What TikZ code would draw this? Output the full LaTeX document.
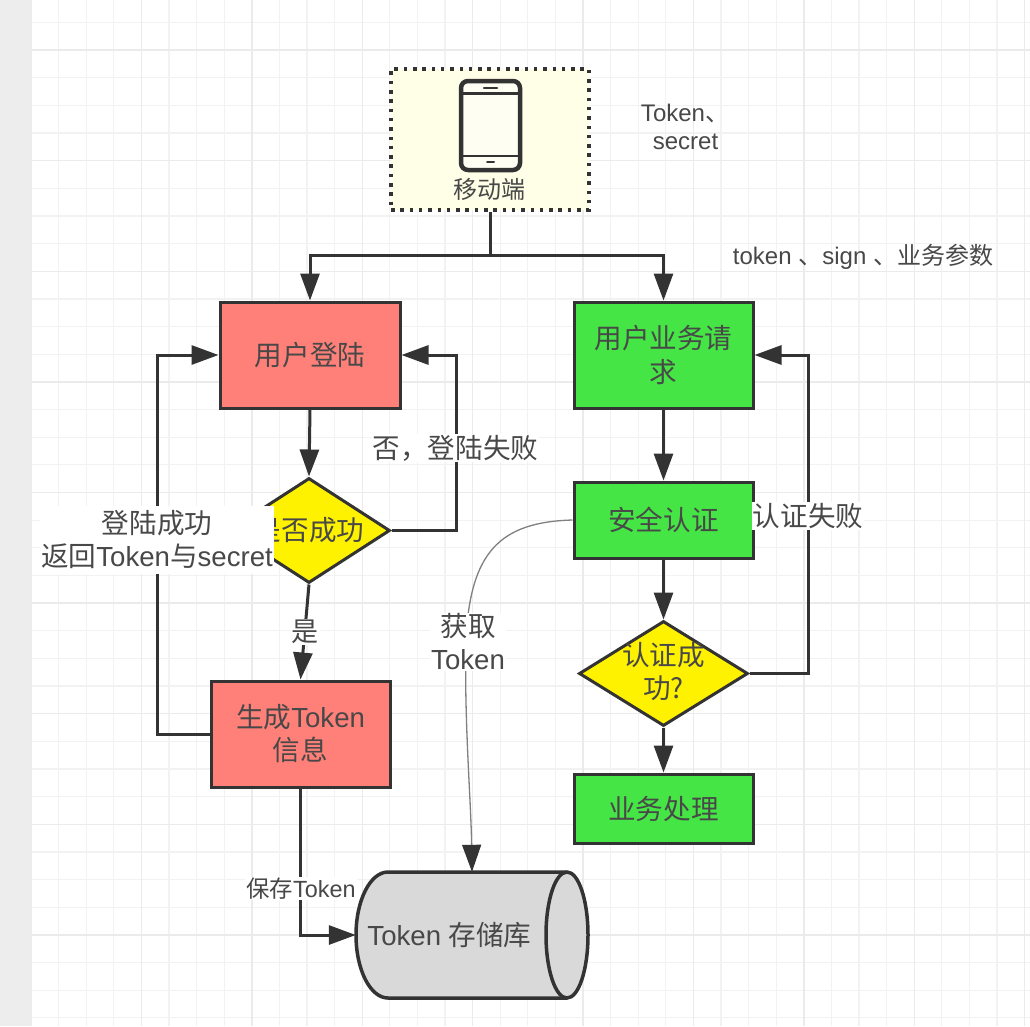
\documentclass[tikz,border=0pt]{standalone}
\usepackage{fontspec}
\setmainfont{Liberation Sans}
\newfontfamily\cjk{Noto Sans CJK SC}
\usetikzlibrary{shapes.geometric,arrows.meta,positioning,calc}
\definecolor{ink}{HTML}{333333}
\definecolor{txt}{HTML}{484848}
\definecolor{salmon}{HTML}{FF8078}
\definecolor{lime}{HTML}{46E546}
\definecolor{yel}{HTML}{FFF200}
\newcommand{\fs}[1]{\fontsize{#1}{33}\selectfont}
\tikzset{
  box/.style={draw=ink,line width=3pt,inner sep=0pt,align=center,text=txt,font=\fs{27.6}},
  salmonbox/.style={box,fill=salmon},
  limebox/.style={box,fill=lime},
  dec/.style={shape=diamond,draw=ink,line width=3pt,fill=yel,inner sep=0pt,aspect=1.55},
  lab/.style={align=center,text=txt,inner sep=1pt,font=\fs{27.6}},
  whitelab/.style={lab,fill=white},
  flow/.style={draw=ink,line width=3pt,-{Triangle[length=27pt,width=19pt]}},
  plain/.style={draw=ink,line width=3pt},
  thin link/.style={draw=gray,line width=1.3pt,-{Triangle[length=27pt,width=19pt,color=ink,fill=ink]}},
}
\begin{document}
\begin{tikzpicture}[x=1pt,y=-1pt]
\useasboundingbox (0,0) rectangle (1030,1026);
\fill[white] (0,0) rectangle (1030,1026);
% grid
\foreach \k in {0,...,36}{
  \draw[draw=black!5,line width=1.2pt] ({31+27.6*\k},0) -- ({31+27.6*\k},1026);
  \draw[draw=black!5,line width=1.2pt] (31,{22.4+27.65*\k}) -- (1030,{22.4+27.65*\k});
}
\foreach \k in {0,...,9}{
  \draw[draw=black!8,line width=1.4pt] ({31+110.4*\k},0) -- ({31+110.4*\k},1026);
  \draw[draw=black!8,line width=1.4pt] (31,{50.05+110.6*\k}) -- (1030,{50.05+110.6*\k});
}
\fill[black!7] (0,0) rectangle (30,1026);
% mobile
\node (mobile) at (490,139.5) [minimum width=198pt,minimum height=141pt,draw=ink,line width=3.5pt,dash pattern=on 3.5pt off 5.8pt,fill=yellow!10,inner sep=0pt] {};
\draw[ink,line width=4.5pt,fill=yellow!5,rounded corners=7pt] (461,81) rectangle (520,170);
\draw[ink,line width=2.5pt] (461,93.5) -- (520,93.5) (461,156) -- (520,156);
\draw[ink,line width=2.5pt,line cap=round] (484,88) -- (497,88);
\draw[ink,line width=2pt,line cap=round] (487,162) -- (494,162);
\node (mobiletxt) at (489,189) [lab,font=\fs{24}\cjk] {移动端};
\node (tk1) at (685,113) [lab,font=\fs{24}] {Token{\cjk 、}};
\node (tk2) at (685.5,142) [lab,font=\fs{24}] {secret};
\node (tk3) at (863,257) [lab,font=\fs{24}] {token {\cjk 、}sign {\cjk 、业务参数}};
% boxes
\node (login) at (310,355) [salmonbox,minimum width=180pt,minimum height=106pt] {\cjk 用户登陆};
\node (biz) at (663.5,355) [limebox,minimum width=179pt,minimum height=106pt] {\cjk 用户业务请\\[1pt]\cjk 求};
\node (auth) at (663.5,520) [limebox,minimum width=179pt,minimum height=76pt] {\cjk 安全认证};
\node (gen) at (300.5,734) [salmonbox,minimum width=179pt,minimum height=106pt] {{\cjk 生成}Token\\{\cjk 信息}};
\node (work) at (663.5,808.5) [limebox,minimum width=179pt,minimum height=69pt] {\cjk 业务处理};
\node (check) at (309,530.5) [dec,minimum width=162pt,minimum height=105pt] {};
\node (verify) at (663.5,673.5) [dec,minimum width=169pt,minimum height=105pt] {};
\node (verifytxt) at (663.5,672) [lab,font=\fs{27.6}\cjk] {认证成\\功?};
\node (checktxt) at (309,530) [lab,font=\fs{27.6}\cjk] {是否成功};
% storage
\node (store) at (472,935) [minimum width=232pt,minimum height=126pt,inner sep=0pt] {};
\draw[ink,line width=3.5pt,fill=black!15] (388,872) -- (567,872) arc[start angle=90,end angle=-90,x radius=21pt,y radius=63pt] -- (388,998) arc[start angle=-90,end angle=-270,x radius=32pt,y radius=63pt] -- cycle;
\draw[ink,line width=3.5pt] (567,872) arc[start angle=90,end angle=270,x radius=21pt,y radius=63pt];
\node (storetxt) at (449.5,935) [lab] {Token {\cjk 存储库}};
% connectors
\coordinate (split) at (mobile.south |- 0,255);
\draw[plain] (mobile.south) -- (split);
\draw[flow] (split) -| (login.north);
\draw[flow] (split) -| (biz.north);
\draw[flow] (login.south) -- (check.north);
\draw[flow] (check.east) -- (456,530.5) |- (login.east);
\draw[flow] (gen.west) -- (157,734) |- (login.west);
\draw[flow] (check.south) -- (gen.north);
\draw[flow] (biz.south) -- (auth.north);
\draw[flow] (auth.south) -- (verify.north);
\draw[flow] (verify.south) -- (work.north);
\draw[flow] (verify.east) -- (808,673.5) |- (biz.east);
\draw[flow] (gen.south) |- (store.west);
\draw[thin link] (auth.west) .. controls (500,522) and (470,552) .. (466,640) .. controls (464,720) and (471,800) .. (store.north);
% labels
\node (failA) at (455.5,448) [whitelab] {\cjk 否，登陆失败};
\node (okA) at (157,539.5) [whitelab,minimum width=233pt,minimum height=68pt] {{\cjk 登陆成功}\\{\cjk 返回}Token{\cjk 与}secret};
\node (yes) at (305,632) [whitelab,font=\fs{27}\cjk] {是};
\node (failB) at (808,516) [whitelab] {\cjk 认证失败};
\node (getT) at (468,642) [whitelab] {{\cjk 获取}\\Token};
\node (saveT) at (301,888.5) [whitelab,font=\fs{23.4}] {{\cjk 保存}Token};
\end{tikzpicture}
\end{document}
